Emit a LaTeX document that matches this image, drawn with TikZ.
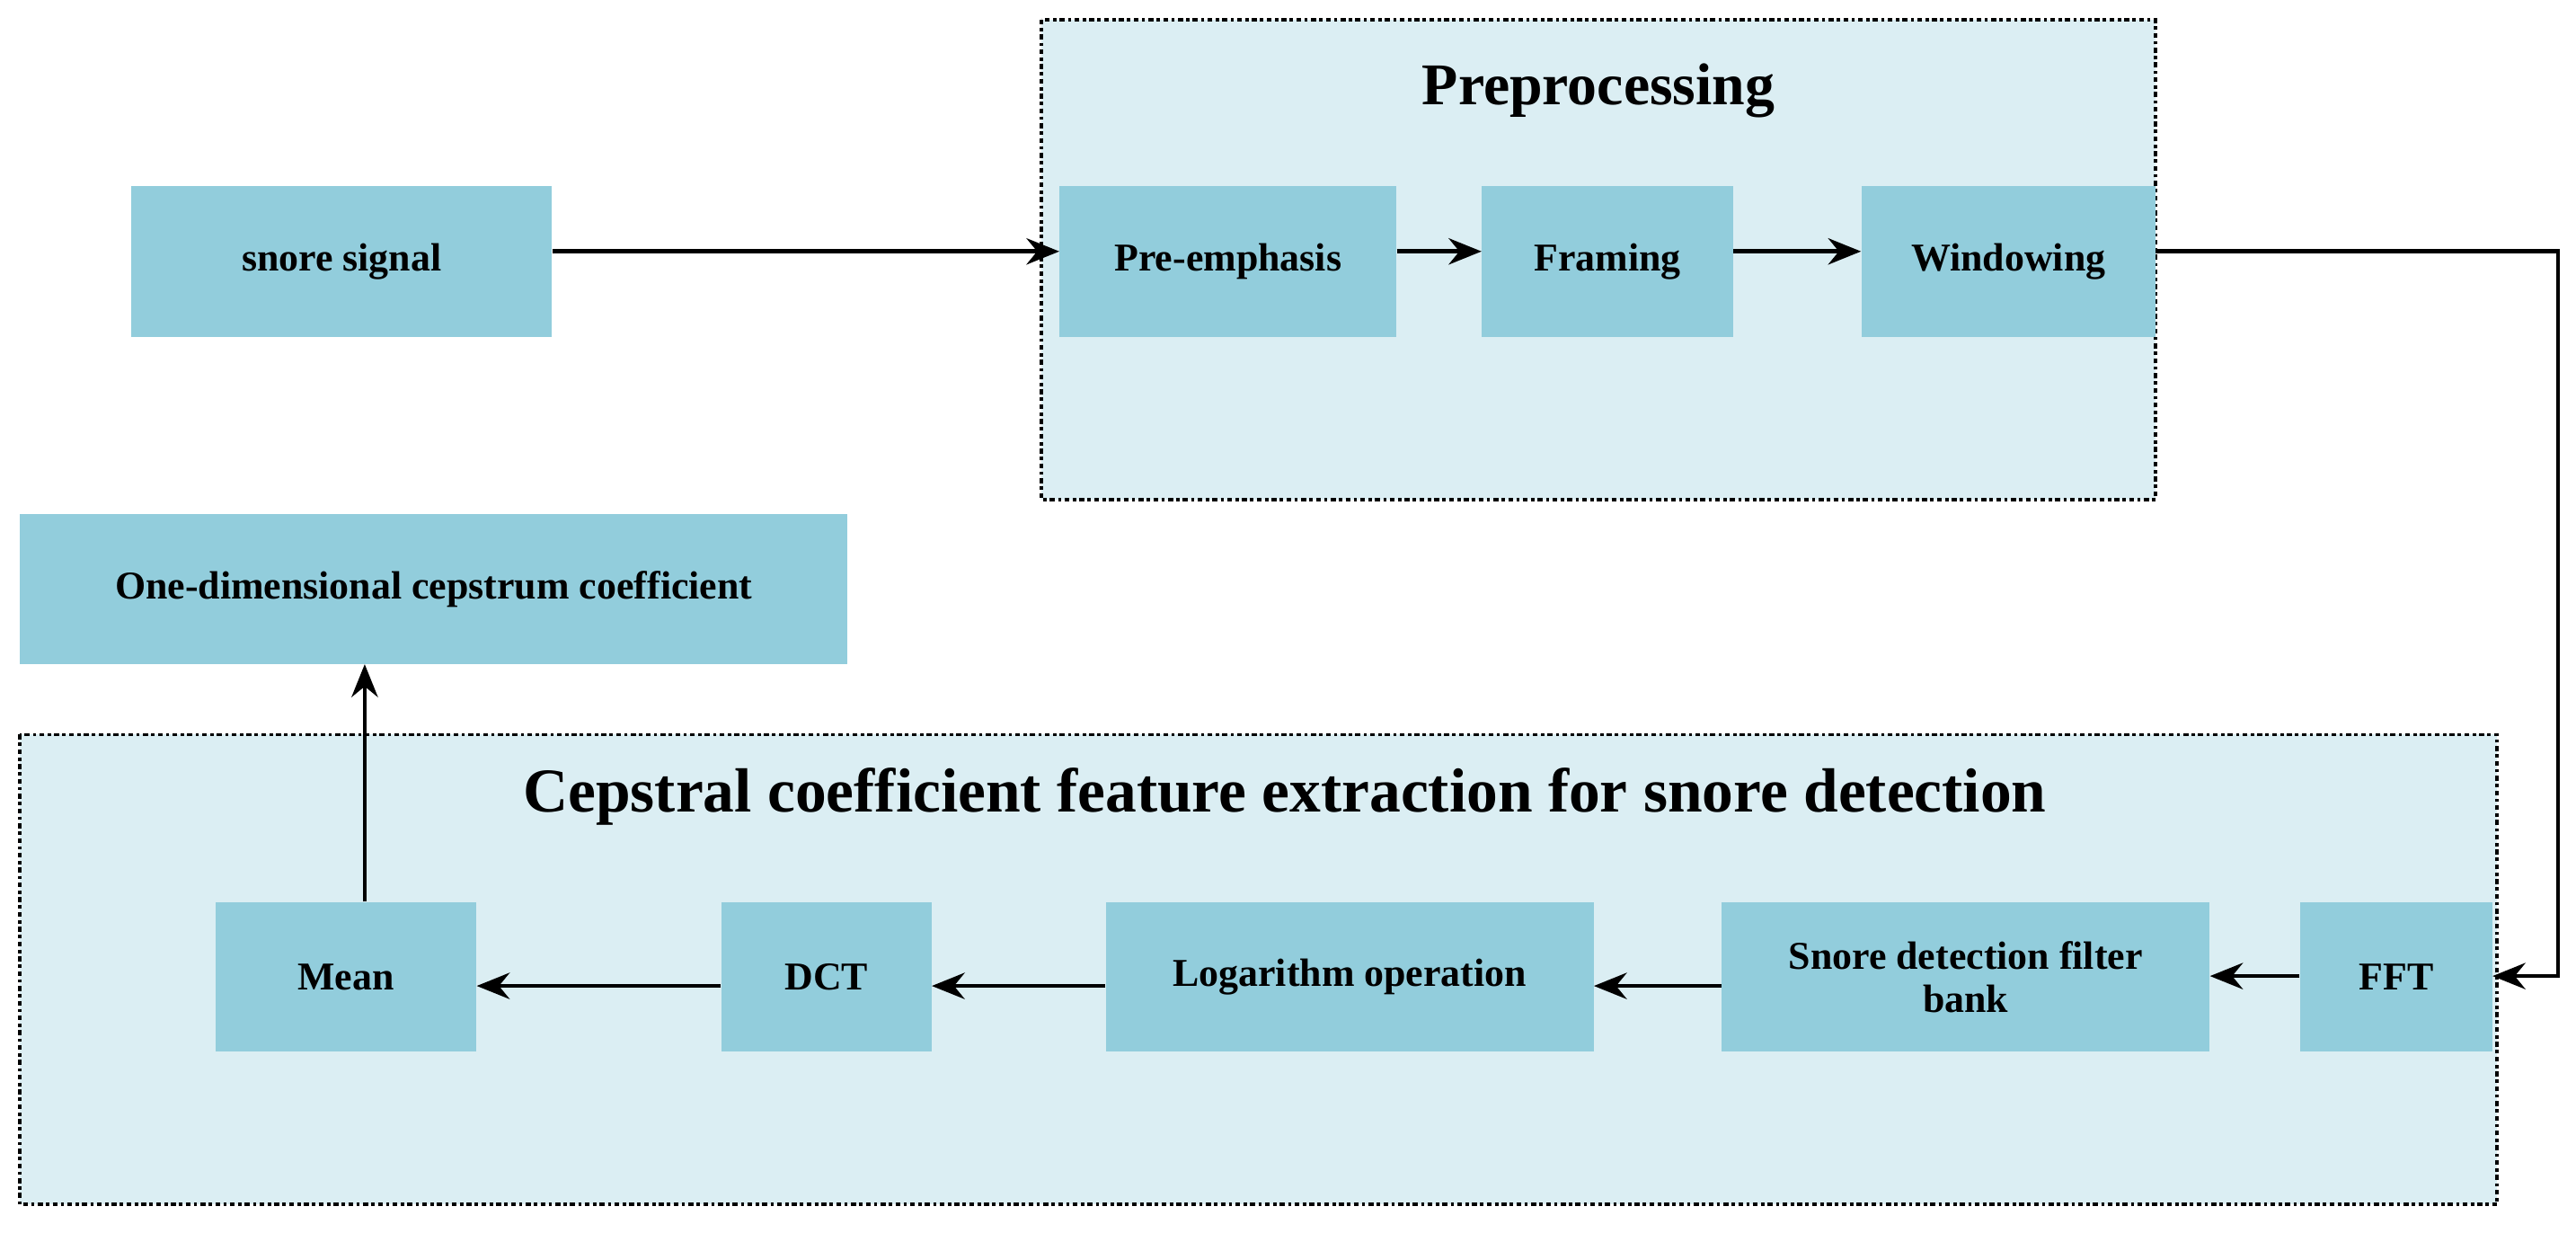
\documentclass[tikz,border=0pt]{standalone}
\usepackage{fontspec}
\setmainfont{Liberation Serif}
\usetikzlibrary{arrows.meta}
\definecolor{boxc}{HTML}{92CDDC}
\definecolor{bgc}{HTML}{DBEEF3}
\begin{document}
\begin{tikzpicture}[x=1pt,y=-1pt,
 box/.style={fill=boxc,draw=none,font=\fontsize{24}{26}\selectfont\bfseries,align=center,inner sep=0},
 frame/.style={fill=bgc,draw=black,line width=2pt,dash dot},
 arr/.style={line width=2.5pt,-{Stealth[length=20pt,width=16pt]}}]
\useasboundingbox (0,0) rectangle (1568,750);
\draw[frame] (634,12) rectangle (1312,304);
\draw[frame] (12,447) rectangle (1520,733);
\node[font=\fontsize{36}{40}\selectfont\bfseries] (t1) at (973,55) {Preprocessing};
\node[font=\fontsize{38}{42}\selectfont\bfseries] (t2) at (782,485) {Cepstral coefficient feature extraction for snore detection};
\newcommand{\bx}[6]{\node[box,minimum width=#4-#3,minimum height=#6-#5] (#1) at ({(#3+#4)/2},{(#5+#6)/2}) {#2};}
\bx{ss}{snore signal}{80}{336}{113}{205}
\bx{pe}{Pre-emphasis}{645}{850}{113}{205}
\bx{fr}{Framing}{902}{1055}{113}{205}
\bx{wi}{Windowing}{1133}{1312}{113}{205}
\bx{od}{One-dimensional cepstrum coefficient}{12}{516}{313}{404}
\bx{me}{Mean}{131}{290}{549}{640}
\bx{dc}{DCT}{439}{567}{549}{640}
\bx{lo}{Logarithm operation}{673}{970}{549}{640}
\bx{sf}{Snore detection filter\\bank}{1048}{1345}{549}{640}
\bx{ff}{FFT}{1400}{1517}{549}{640}
\coordinate (c1) at (1557,153);
\coordinate (c2) at (1557,594);
\draw[arr] (ss.east|-0,153) -- (pe.west|-0,153);
\draw[arr] (pe.east|-0,153) -- (fr.west|-0,153);
\draw[arr] (fr.east|-0,153) -- (wi.west|-0,153);
\draw[arr] (wi.east|-0,153) -- (c1) -- (c2) -- (ff.east|-c2);
\draw[arr] (ff.west|-c2) -- (sf.east|-c2);
\draw[arr] (sf.west|-0,600) -- (lo.east|-0,600);
\draw[arr] (lo.west|-0,600) -- (dc.east|-0,600);
\draw[arr] (dc.west|-0,600) -- (me.east|-0,600);
\draw[arr] (me.north-|222,0) -- (od.south-|222,0);
\end{tikzpicture}
\end{document}
